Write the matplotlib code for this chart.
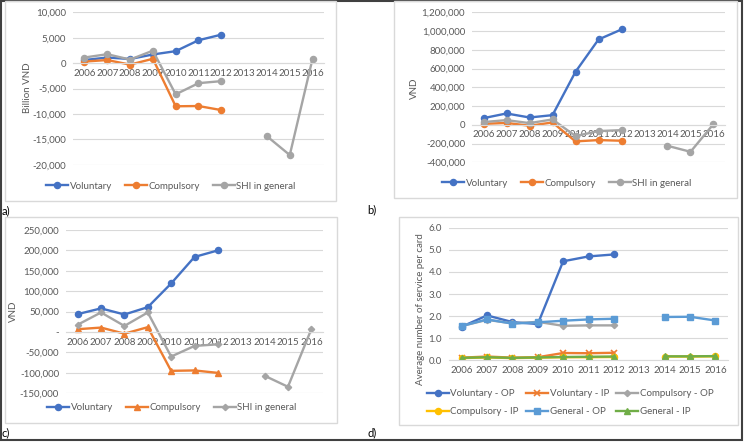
import matplotlib
matplotlib.use("Agg")
import matplotlib.pyplot as plt
import matplotlib.patches as mpatches
import numpy as np
from matplotlib.ticker import FuncFormatter, FixedLocator

nan = np.nan
years = ["2006", "2007", "2008", "2009", "2010", "2011", "2012", "2013", "2014", "2015", "2016"]

# a) balance, billion VND
a_vol = [600, 1100, 800, 1700, 2350, 4500, 5600, nan, nan, nan, nan]
a_comp = [300, 600, -300, 850, -8500, -8450, -9250, nan, nan, nan, nan]
a_shi = [1100, 1750, 700, 2450, -6150, -3950, -3550, nan, -14400, -18100, 900]

# b) VND
b_vol = [71000, 121000, 78000, 103000, 565000, 910000, 1017000, nan, nan, nan, nan]
b_comp = [10000, 20000, -10000, 25000, -177000, -163000, -170000, nan, nan, nan, nan]
b_shi = [29000, 50000, 18000, 57000, -120000, -67000, -57000, nan, -224000, -288000, 8000]

# c) VND
c_vol = [44000, 58000, 43000, 61000, 119000, 184000, 200000, nan, nan, nan, nan]
c_comp = [7000, 11000, -4000, 12000, -95000, -94000, -100000, nan, nan, nan, nan]
c_shi = [18000, 48000, 15000, 48000, -60000, -34000, -30000, nan, -107000, -134000, 7000]

# d) average number of services per card
d_vol_op = [1.52, 2.03, 1.73, 1.64, 4.48, 4.70, 4.79, nan, nan, nan, nan]
d_vol_ip = [0.12, 0.17, 0.12, 0.14, 0.33, 0.32, 0.34, nan, nan, nan, nan]
d_comp_op = [1.55, 1.83, 1.67, 1.74, 1.56, 1.58, 1.58, nan, nan, nan, nan]
d_comp_ip = [0.10, 0.13, 0.10, 0.12, 0.14, 0.14, 0.15, nan, 0.17, 0.17, 0.18]
d_gen_op = [1.55, 1.85, 1.66, 1.72, 1.79, 1.85, 1.88, nan, 1.96, 1.97, 1.80]
d_gen_ip = [0.11, 0.14, 0.11, 0.13, 0.15, 0.16, 0.17, nan, 0.18, 0.18, 0.19]

BLUE, ORANGE, GRAY = "#4472C4", "#ED7D31", "#A5A5A5"
YELLOW, LBLUE, GREEN = "#FFC000", "#5B9BD5", "#70AD47"
TXT = "#595959"
GRID = "#D9D9D9"
FS = 7

plt.rcParams["font.family"] = ["Lato", "DejaVu Sans"]

W, H = 744, 442
fig = plt.figure(figsize=(W / 100, H / 100), dpi=100)


def rect(l, t, r, b):
    return [l / W, 1 - b / H, (r - l) / W, (b - t) / H]


def box(l, t, r, b, ec=GRID, lw=1.0):
    fig.patches.append(mpatches.Rectangle((l / W, 1 - b / H), (r - l) / W, (b - t) / H,
                                          transform=fig.transFigure, fill=False,
                                          ec=ec, lw=lw))


# outer frame and panel frames
box(1, 0.5, 742, 440, ec="#404040", lw=1.5)
box(5, 1, 336, 201)
box(394, 1, 737, 198)
box(5, 217, 337, 423)
box(399, 217, 738, 425)

x = np.arange(len(years))


def setup(ax, ylim, step, fmt):
    ax.set_xlim(-0.5, len(years) - 0.5)
    ax.set_ylim(*ylim)
    ax.yaxis.set_major_locator(FixedLocator(np.arange(ylim[0], ylim[1] + step / 2, step)))
    ax.yaxis.set_major_formatter(FuncFormatter(fmt))
    ax.set_xticks(x)
    ax.set_xticklabels(years)
    ax.grid(axis="y", color=GRID, lw=0.8)
    ax.set_axisbelow(True)
    for s in ["top", "right", "left"]:
        ax.spines[s].set_visible(False)
    ax.spines["bottom"].set_position(("data", 0))
    ax.spines["bottom"].set_color(GRID)
    ax.tick_params(length=0, labelsize=FS, labelcolor=TXT)
    ax.tick_params(axis="x", pad=4)
    ax.tick_params(axis="y", pad=5)
    ax.set_facecolor("none")


def comma(v, p):
    return "{:,.0f}".format(v)


def comma_dash(v, p):
    return "-" if v == 0 else "{:,.0f}".format(v)


def onedec(v, p):
    return "{:.1f}".format(v)


lw, ms = 1.7, 4.4
leg_kw = dict(frameon=False, fontsize=FS, handlelength=2.3, handletextpad=0.15,
              labelcolor=TXT, bbox_transform=fig.transFigure, loc="center")

# ---- a)
ax = fig.add_axes(rect(73, 12.3, 324, 164.7))
setup(ax, (-20000, 10000), 5000, comma)
ax.plot(x, a_vol, color=BLUE, lw=lw, marker="o", ms=ms, label="Voluntary")
ax.plot(x, a_comp, color=ORANGE, lw=lw, marker="o", ms=ms, label="Compulsory")
ax.plot(x, a_shi, color=GRAY, lw=lw, marker="o", ms=ms, label="SHI in general")
ax.legend(ncol=3, bbox_to_anchor=(171 / W, 1 - 186 / H), columnspacing=1.3, **leg_kw)
fig.text(27 / W, 1 - 88 / H, "Billion VND", rotation=90, ha="center", va="center",
         fontsize=FS, color=TXT)

# ---- b)
ax = fig.add_axes(rect(472, 12.3, 725, 162.3))
setup(ax, (-400000, 1200000), 200000, comma)
ax.plot(x, b_vol, color=BLUE, lw=lw, marker="o", ms=ms, label="Voluntary")
ax.plot(x, b_comp, color=ORANGE, lw=lw, marker="o", ms=ms, label="Compulsory")
ax.plot(x, b_shi, color=GRAY, lw=lw, marker="o", ms=ms, label="SHI in general")
ax.legend(ncol=3, bbox_to_anchor=(567 / W, 1 - 183 / H), columnspacing=1.3, **leg_kw)
fig.text(414 / W, 1 - 88 / H, "VND", rotation=90, ha="center", va="center",
         fontsize=FS, color=TXT)

# ---- c)
ax = fig.add_axes(rect(66, 230, 323, 393.3))
setup(ax, (-150000, 250000), 50000, comma_dash)
ax.plot(x, c_vol, color=BLUE, lw=lw, marker="o", ms=ms, label="Voluntary")
ax.plot(x, c_comp, color=ORANGE, lw=lw, marker="^", ms=ms, label="Compulsory")
ax.plot(x, c_shi, color=GRAY, lw=lw, marker="D", ms=3.2, label="SHI in general")
ax.legend(ncol=3, bbox_to_anchor=(172 / W, 1 - 407.7 / H), columnspacing=1.3, **leg_kw)
fig.text(13 / W, 1 - 311 / H, "VND", rotation=90, ha="center", va="center",
         fontsize=FS, color=TXT)

# ---- d)
ax = fig.add_axes(rect(449, 227.7, 728, 360.3))
setup(ax, (0, 6), 1, onedec)
ax.plot(x, d_vol_op, color=BLUE, lw=lw, marker="o", ms=ms, label="Voluntary - OP")
ax.plot(x, d_vol_ip, color=ORANGE, lw=lw, marker="x", ms=ms, mew=1.2, label="Voluntary - IP")
ax.plot(x, d_comp_op, color=GRAY, lw=lw, marker="D", ms=3.2, label="Compulsory - OP")
ax.plot(x, d_comp_ip, color=YELLOW, lw=lw, marker="o", ms=ms, label="Compulsory - IP")
ax.plot(x, d_gen_op, color=LBLUE, lw=lw, marker="s", ms=ms, label="General - OP")
ax.plot(x, d_gen_ip, color=GREEN, lw=lw, marker="^", ms=ms, label="General - IP")
# matplotlib fills legend columns first, reorder so rows read like the original
h, l = ax.get_legend_handles_labels()
order = [0, 3, 1, 4, 2, 5]
ax.legend([h[i] for i in order], [l[i] for i in order], ncol=3, columnspacing=0.7,
          bbox_to_anchor=(570 / W, 1 - 402.7 / H), labelspacing=0.9, **leg_kw)
fig.text(420 / W, 1 - 309 / H, "Average number of service per card", rotation=90,
         ha="center", va="center", fontsize=FS, color=TXT)

# panel letters
for px, py, s in [(2, 211, "a)"), (367, 210, "b)"), (2, 433, "c)"), (368, 433, "d)")]:
    fig.text(px / W, 1 - py / H, s, ha="left", va="center", fontsize=8, color="black")

fig.savefig("out.png", dpi=100)
